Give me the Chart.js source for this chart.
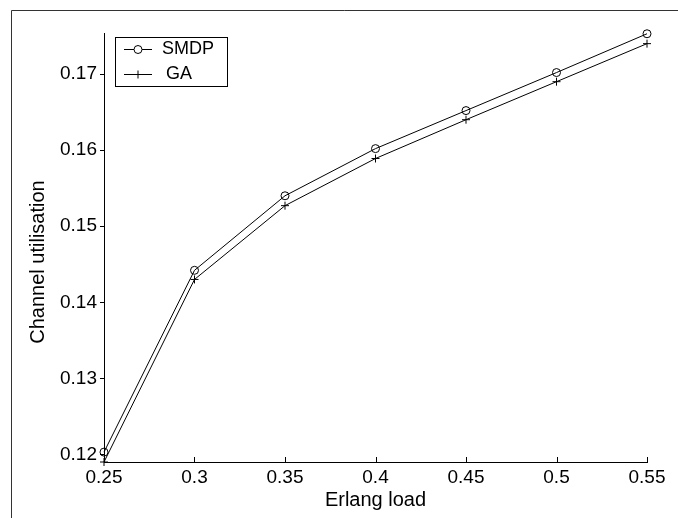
<!DOCTYPE html>
<html>
<head>
<meta charset="utf-8">
<script src="https://cdn.jsdelivr.net/npm/chart.js@4.4.0/dist/chart.umd.min.js"></script>
<style>
  html, body { margin: 0; padding: 0; background: #fff; }
  canvas { display: block; }
</style>
</head>
<body>
<canvas id="utilisacao" width="678" height="518"></canvas>
<script>
// data
const erlangLoad = [0.25, 0.3, 0.35, 0.4, 0.45, 0.5, 0.55];
const smdpValues = [0.1203, 0.1442, 0.1540, 0.1602, 0.1652, 0.1702, 0.1753];
const gaValues = [0.1190, 0.1430, 0.1527, 0.1589, 0.1640, 0.1690, 0.1740];
const xTicks = [0.25, 0.3, 0.35, 0.4, 0.45, 0.5, 0.55];
const yTicks = [0.12, 0.13, 0.14, 0.15, 0.16, 0.17];

const FONT = "'Liberation Sans', Arial, Helvetica, sans-serif";

function toPoints(values) {
  return erlangLoad.map((x, i) => ({ x: x, y: values[i] }));
}

function fmt(v) {
  return String(parseFloat(v.toFixed(2)));
}

// moldura, ticks do eixo x para dentro, titulo do eixo y e legenda
const extras = {
  id: "extras",
  beforeDraw(chart) {
    const c = chart.ctx;
    c.save();
    c.strokeStyle = "#333";
    c.lineWidth = 1;
    c.beginPath();
    c.moveTo(11.5, 518);
    c.lineTo(11.5, 10.5);
    c.lineTo(678, 10.5);
    c.stroke();
    c.restore();
  },
  afterDraw(chart) {
    const c = chart.ctx;
    const xs = chart.scales.x;
    const area = chart.chartArea;
    c.save();
    c.strokeStyle = "#000";
    c.lineWidth = 1;
    xTicks.forEach((v) => {
      const px = Math.round(xs.getPixelForValue(v)) + 0.5;
      c.beginPath();
      c.moveTo(px, area.bottom);
      c.lineTo(px, area.bottom - 5);
      c.stroke();
    });

    // titulo y
    c.fillStyle = "#000";
    c.font = "20px " + FONT;
    c.textAlign = "center";
    c.textBaseline = "middle";
    c.translate(38, 262);
    c.rotate(-Math.PI / 2);
    c.fillText("Channel utilisation", 0, 0);
    c.restore();

    // legenda
    c.save();
    const bx = 115.5, by = 37.5, bw = 112, bh = 49;
    c.fillStyle = "#fff";
    c.fillRect(bx, by, bw, bh);
    c.strokeStyle = "#000";
    c.lineWidth = 1;
    c.strokeRect(bx, by, bw, bh);
    const rows = [49.5, 74.5];
    const textX = [162, 166];
    chart.data.datasets.forEach((ds, i) => {
      const y = rows[i];
      c.strokeStyle = "#000";
      c.beginPath();
      c.moveTo(124, y);
      c.lineTo(152, y);
      c.stroke();
      Chart.helpers.drawPoint(c, {
        pointStyle: ds.pointStyle,
        radius: ds.pointRadius,
        borderWidth: 1
      }, 138, y);
      c.fillStyle = "#000";
      c.font = "18px " + FONT;
      c.textAlign = "left";
      c.textBaseline = "middle";
      c.fillText(ds.label, textX[i], y);
    });
    c.restore();
  }
};

const ctx = document.getElementById("utilisacao");

new Chart(ctx, {
  type: "line",
  data: {
    datasets: [
      {
        label: "SMDP",
        data: toPoints(smdpValues),
        borderColor: "#000",
        borderWidth: 1,
        pointStyle: "circle",
        pointRadius: 4,
        pointBorderWidth: 1,
        pointBorderColor: "#000",
        pointBackgroundColor: "rgba(0,0,0,0)",
        tension: 0,
        clip: false,
      },
      {
        label: "GA",
        data: toPoints(gaValues),
        borderColor: "#000",
        borderWidth: 1,
        pointStyle: "cross",
        pointRadius: 4,
        pointBorderWidth: 1,
        pointBorderColor: "#000",
        tension: 0,
        clip: false,
      },
    ],
  },
  options: {
    responsive: false,
    animation: false,
    devicePixelRatio: 1,
    layout: {
      padding: { top: 33, right: 31, left: 0, bottom: 0 },
    },
    plugins: {
      legend: { display: false },
      tooltip: { enabled: false },
    },
    scales: {
      x: {
        type: "linear",
        min: 0.25,
        max: 0.55,
        afterFit(scale) {
          scale.height = 56;
        },
        afterBuildTicks(scale) {
          scale.ticks = xTicks.map((v) => ({ value: v }));
        },
        grid: { display: false, drawTicks: false },
        border: { display: true, color: "#000", width: 1 },
        ticks: {
          color: "#000",
          font: { family: FONT, size: 19 },
          padding: 4,
          maxRotation: 0,
          autoSkip: false,
          callback: (v) => fmt(v),
        },
        title: {
          display: true,
          text: "Erlang load",
          color: "#000",
          font: { family: FONT, size: 20 },
          padding: { top: 0, bottom: 6 },
        },
      },
      y: {
        type: "linear",
        min: 0.1190,
        max: 0.1754,
        afterFit(scale) {
          scale.width = 104;
        },
        afterBuildTicks(scale) {
          scale.ticks = yTicks.map((v) => ({ value: v }));
        },
        grid: {
          display: true,
          drawOnChartArea: false,
          drawTicks: true,
          tickLength: 4,
          color: "#000",
        },
        border: { display: true, color: "#000", width: 1 },
        ticks: {
          color: "#000",
          font: { family: FONT, size: 19 },
          padding: 3,
          autoSkip: false,
          callback: (v) => fmt(v),
        },
      },
    },
  },
  plugins: [extras],
});
</script>
</body>
</html>
